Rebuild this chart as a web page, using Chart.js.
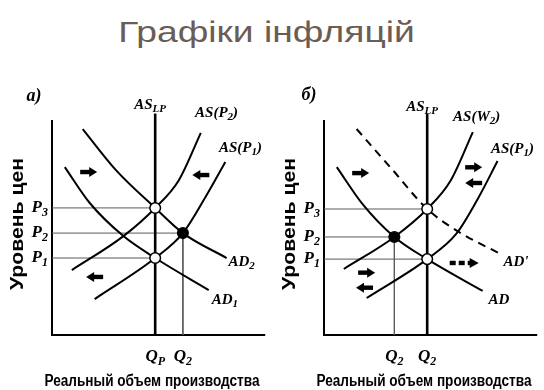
<!DOCTYPE html>
<html>
<head>
<meta charset="utf-8">
<script src="https://cdn.jsdelivr.net/npm/chart.js@4.4.1/dist/chart.umd.min.js"></script>
<style>
  html, body { margin: 0; padding: 0; background: #ffffff; }
  body { width: 544px; height: 390px; position: relative; overflow: hidden; }
  #title { position: absolute; left: 0; top: 15px; width: 533px; text-align: center;
           font-family: "Liberation Sans", Arial, sans-serif; font-size: 30px; line-height: 34px;
           color: #6b5c55; transform: scaleX(1.24); transform-origin: 266.5px 0; white-space: nowrap; }
  canvas { position: absolute; top: 70px; }
  #left { left: 0; }
  #right { left: 272px; }
</style>
</head>
<body>
<div id="title">Графіки інфляцій</div>
<canvas id="left" width="272" height="320"></canvas>
<canvas id="right" width="272" height="320"></canvas>
<script>
// ---------- DATA (Q = real output, P = price level, axes 0..10) ----------
// Panel a)
const aAD2_Q = [1.44, 3.0, 4.84, 6.14, 8.19];
const aAD2_P = [9.58, 7.67, 5.91, 4.74, 3.58];
const aAD1_Q = [0.6, 1.77, 3.35, 4.84, 7.35];
const aAD1_P = [7.81, 6.14, 4.6, 3.58, 2.09];
const aASP2_Q = [0.93, 3.35, 4.84, 5.95, 6.98];
const aASP2_P = [3.02, 4.6, 5.91, 7.2, 9.4];
const aASP1_Q = [2.0, 4.84, 6.14, 7.2, 8.13];
const aASP1_P = [1.67, 3.58, 4.74, 6.42, 8.05];
const aQLevels = [4.84, 6.14];           // Q_P, Q_2
const aQLabels = [['Q', 'P'], ['Q', '2']];
const aPLevels = [5.91, 4.74, 3.58];     // P3, P2, P1
const aPLabels = [['P', '3'], ['P', '2'], ['P', '1']];

// Panel б)
const bAD_Q = [0.6, 1.8, 3.3, 4.84, 7.44];
const bAD_P = [7.81, 6.1, 4.56, 3.53, 2.05];
const bASW2_Q = [0.93, 3.3, 4.84, 5.95, 6.98];
const bASW2_P = [3.07, 4.56, 5.86, 7.2, 9.44];
const bASP1_Q = [2.0, 4.84, 6.2, 7.25, 8.14];
const bASP1_P = [1.72, 3.53, 4.7, 6.4, 8.09];
const bADprime_Q = [1.53, 3.2, 4.84, 6.33, 8.28];
const bADprime_P = [9.58, 7.7, 5.86, 4.79, 3.77];
const bQLevels = [3.3, 4.84];            // Q_2, Q_2
const bQLabels = [['Q', '2'], ['Q', '2']];
const bPLevels = [5.86, 4.56, 3.53];     // P3, P2, P1
const bPLabels = [['P', '3'], ['P', '2'], ['P', '1']];

const ASLP_TOP = 10.3;

// ---------- helpers ----------
function pts(xs, ys) { return xs.map((x, i) => ({ x: x, y: ys[i] })); }

function curve(xs, ys, dashed) {
  return {
    data: pts(xs, ys), showLine: true, borderColor: '#000', borderWidth: 2,
    pointRadius: 0, cubicInterpolationMode: 'monotone', clip: false,
    borderDash: dashed ? [8, 6] : [], order: 2
  };
}
function guide(p1, p2) {
  return { data: [p1, p2], showLine: true, borderColor: '#5a5a5a', borderWidth: 1,
           pointRadius: 0, clip: false, order: 5 };
}
function vline(x, top) {
  return { data: [{ x: x, y: 0 }, { x: x, y: top }], showLine: true, borderColor: '#000',
           borderWidth: 2.6, pointRadius: 0, clip: false, order: 3 };
}
function dots(list, filled) {
  return { data: list, showLine: false, pointRadius: 5.3,
           pointBackgroundColor: filled ? '#000' : '#fff', pointBorderColor: '#000',
           pointBorderWidth: 1.5, clip: false, order: 0 };
}

const SERIF = "'Liberation Serif', 'Times New Roman', serif";
function richText(ctx, parts, x, y, align, size) {
  const base = parts[0], sub = parts[1] || '', rest = parts[2] || '';
  const bf = 'italic bold ' + size + 'px ' + SERIF;
  const sf = 'italic bold ' + Math.round(size * 0.7) + 'px ' + SERIF;
  ctx.font = bf; const w1 = ctx.measureText(base).width;
  ctx.font = sf; const w2 = ctx.measureText(sub).width;
  ctx.font = bf; const w3 = ctx.measureText(rest).width;
  const total = w1 + w2 + w3;
  let sx = x;
  if (align === 'center') sx = x - total / 2;
  else if (align === 'right') sx = x - total;
  ctx.textAlign = 'left'; ctx.textBaseline = 'middle'; ctx.fillStyle = '#000';
  ctx.font = bf; ctx.fillText(base, sx, y);
  ctx.font = sf; ctx.fillText(sub, sx + w1, y + size * 0.3);
  ctx.font = bf; ctx.fillText(rest, sx + w1 + w2, y);
}

function fittedText(ctx, text, cx, cy, font, targetW, angle) {
  ctx.save();
  ctx.font = font;
  const w = ctx.measureText(text).width;
  ctx.translate(cx, cy);
  if (angle) ctx.rotate(angle);
  ctx.scale(targetW / w, 1);
  ctx.textAlign = 'center'; ctx.textBaseline = 'middle'; ctx.fillStyle = '#000';
  ctx.fillText(text, 0, 0);
  ctx.restore();
}

function arrow(ctx, cx, cy, dir, dashed) {
  ctx.save();
  ctx.translate(cx, cy);
  if (dir < 0) ctx.scale(-1, 1);
  ctx.fillStyle = '#000';
  if (!dashed) {
    ctx.fillRect(-8.5, -2.2, 10, 4.4);
    ctx.beginPath(); ctx.moveTo(0.5, -5); ctx.lineTo(8.5, 0); ctx.lineTo(0.5, 5); ctx.closePath(); ctx.fill();
  } else {
    ctx.fillRect(-15, -2.2, 6, 4.4);
    ctx.fillRect(-6, -2.2, 6, 4.4);
    ctx.fillRect(3, -2.2, 4, 4.4);
    ctx.beginPath(); ctx.moveTo(5, -5); ctx.lineTo(14, 0); ctx.lineTo(5, 5); ctx.closePath(); ctx.fill();
  }
  ctx.restore();
}

function decorPlugin(spec) {
  return {
    id: 'decor',
    beforeDatasetsDraw(chart) {
      const ctx = chart.ctx, xs = chart.scales.x, ys = chart.scales.y;
      ctx.save();
      ctx.strokeStyle = '#000'; ctx.lineWidth = 2;
      ctx.beginPath();
      ctx.moveTo(xs.getPixelForValue(0), ys.getPixelForValue(10));
      ctx.lineTo(xs.getPixelForValue(0), ys.getPixelForValue(0));
      ctx.lineTo(xs.getPixelForValue(10), ys.getPixelForValue(0));
      ctx.stroke();
      ctx.restore();
    },
    afterDatasetsDraw(chart) {
      const ctx = chart.ctx, xs = chart.scales.x, ys = chart.scales.y;
      const X = v => xs.getPixelForValue(v), Y = v => ys.getPixelForValue(v);
      ctx.save();
      spec.pLevels.forEach((p, i) => richText(ctx, spec.pLabels[i], X(0) - 4, Y(p), 'right', 17));
      spec.qLevels.forEach((q, i) => richText(ctx, spec.qLabels[i], X(q), Y(0) + 22, 'center', 17));
      spec.labels.forEach(l => richText(ctx, l.t, X(l.x), Y(l.y), l.a, 15));
      ctx.font = 'italic bold 18px ' + SERIF; ctx.textAlign = 'center'; ctx.textBaseline = 'middle';
      ctx.fillStyle = '#000';
      ctx.fillText(spec.letter, X(spec.letterPos[0]), Y(spec.letterPos[1]));
      spec.arrows.forEach(a => arrow(ctx, X(a.x), Y(a.y), a.d, a.dash));
      fittedText(ctx, 'Реальный объем производства', 152, 312,
                 "bold 16px 'Liberation Sans', Arial, sans-serif", 215, 0);
      fittedText(ctx, 'Уровень цен', 18, 154,
                 "bold 18px 'Liberation Sans', Arial, sans-serif", 132, -Math.PI / 2);
      ctx.restore();
    }
  };
}

function makeChart(id, datasets, spec) {
  return new Chart(document.getElementById(id), {
    type: 'scatter',
    data: { datasets: datasets },
    options: {
      responsive: false, animation: false, events: [],
      layout: { padding: { left: 52, right: 5, top: 50, bottom: 55 } },
      scales: {
        x: { type: 'linear', min: 0, max: 10, display: false },
        y: { type: 'linear', min: 0, max: 10, display: false }
      },
      plugins: { legend: { display: false }, tooltip: { enabled: false } }
    },
    plugins: [decorPlugin(spec)]
  });
}

// ---------- Panel a) ----------
makeChart('left', [
  dots([{ x: aQLevels[0], y: aPLevels[0] }, { x: aQLevels[0], y: aPLevels[2] }], false),
  dots([{ x: aQLevels[1], y: aPLevels[1] }], true),
  curve(aAD2_Q, aAD2_P), curve(aAD1_Q, aAD1_P), curve(aASP2_Q, aASP2_P), curve(aASP1_Q, aASP1_P),
  vline(aQLevels[0], ASLP_TOP),
  guide({ x: 0, y: aPLevels[0] }, { x: aQLevels[0], y: aPLevels[0] }),
  guide({ x: 0, y: aPLevels[1] }, { x: aQLevels[1], y: aPLevels[1] }),
  guide({ x: 0, y: aPLevels[2] }, { x: aQLevels[0], y: aPLevels[2] }),
  guide({ x: aQLevels[1], y: aPLevels[1] }, { x: aQLevels[1], y: 0 })
], {
  pLevels: aPLevels, pLabels: aPLabels, qLevels: aQLevels, qLabels: aQLabels,
  letter: 'a)', letterPos: [-0.85, 11.1],
  labels: [
    { t: ['AS', 'LP'], x: 4.6, y: 10.7, a: 'center' },
    { t: ['AS(P', '2', ')'], x: 7.72, y: 10.33, a: 'center' },
    { t: ['AS(P', '1', ')'], x: 8.84, y: 8.7, a: 'center' },
    { t: ['AD', '2'], x: 8.28, y: 3.4, a: 'left' },
    { t: ['AD', '1'], x: 7.49, y: 1.63, a: 'left' }
  ],
  arrows: [
    { x: 1.72, y: 7.58, d: 1 }, { x: 6.98, y: 7.44, d: -1 }, { x: 2.0, y: 2.7, d: -1 }
  ]
});

// ---------- Panel б) ----------
makeChart('right', [
  dots([{ x: bQLevels[1], y: bPLevels[0] }, { x: bQLevels[1], y: bPLevels[2] }], false),
  dots([{ x: bQLevels[0], y: bPLevels[1] }], true),
  curve(bAD_Q, bAD_P), curve(bASW2_Q, bASW2_P), curve(bASP1_Q, bASP1_P),
  curve(bADprime_Q, bADprime_P, true),
  vline(bQLevels[1], ASLP_TOP),
  guide({ x: 0, y: bPLevels[0] }, { x: bQLevels[1], y: bPLevels[0] }),
  guide({ x: 0, y: bPLevels[1] }, { x: bQLevels[0], y: bPLevels[1] }),
  guide({ x: 0, y: bPLevels[2] }, { x: bQLevels[1], y: bPLevels[2] }),
  guide({ x: bQLevels[0], y: bPLevels[1] }, { x: bQLevels[0], y: 0 })
], {
  pLevels: bPLevels, pLabels: bPLabels, qLevels: bQLevels, qLabels: bQLabels,
  letter: 'б)', letterPos: [-0.7, 11.15],
  labels: [
    { t: ['AS', 'LP'], x: 4.6, y: 10.6, a: 'center' },
    { t: ['AS(W', '2', ')'], x: 7.16, y: 10.14, a: 'center' },
    { t: ['AS(P', '1', ')'], x: 8.84, y: 8.65, a: 'center' },
    { t: ["AD'"], x: 8.42, y: 3.4, a: 'left' },
    { t: ['AD'], x: 7.72, y: 1.63, a: 'left' }
  ],
  arrows: [
    { x: 1.72, y: 7.53, d: 1 },
    { x: 7.02, y: 7.8, d: 1 }, { x: 7.02, y: 7.07, d: -1 },
    { x: 2.0, y: 2.9, d: 1 }, { x: 1.9, y: 2.2, d: -1 },
    { x: 6.6, y: 3.35, d: 1, dash: true }
  ]
});
</script>
</body>
</html>
